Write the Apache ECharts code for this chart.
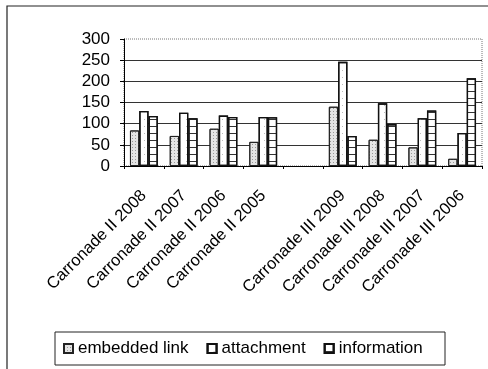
<!DOCTYPE html>
<html>
<head>
<meta charset="utf-8">
<script src="https://cdn.jsdelivr.net/npm/echarts@6/dist/echarts.min.js"></script>
<style>
html,body{margin:0;padding:0;background:#fff;}
#c{width:488px;height:369px;}
</style>
</head>
<body>
<div id="c"></div>
<script>
const categories = ['Carronade II 2008','Carronade II 2007','Carronade II 2006','Carronade II 2005','','Carronade III 2009','Carronade III 2008','Carronade III 2007','Carronade III 2006'];
const embeddedLink = [84, 71, 88, 57, null, 140, 62, 44, 17];
const attachment = [130, 126, 119, 116, null, 246, 148, 113, 78];
const information = [118, 113, 116, 115, null, 71, 99, 131, 207];
const seriesNames = ['embedded link', 'attachment', 'information'];
const yTicks = [0, 50, 100, 150, 200, 250, 300];

const chart = echarts.init(document.getElementById('c'), null, {renderer: 'canvas'});
const font = 'Liberation Sans, Arial, sans-serif';

chart.setOption({
  animation: false,
  backgroundColor: '#fff',
  graphic: [
    {type: 'rect', shape: {x: 7, y: 6, width: 520, height: 420}, style: {fill: 'none', stroke: '#222', lineWidth: 1.2}, z: 0},
    {type: 'rect', shape: {x: 55, y: 332, width: 390, height: 33}, style: {fill: '#fff', stroke: '#222', lineWidth: 1}, z: 1}
  ],
  grid: {
    left: 124, right: 6, top: 39, bottom: 203,
    show: true, borderColor: '#777', borderWidth: 1, borderType: 'dotted', backgroundColor: 'transparent'
  },
  legend: {
    data: seriesNames,
    left: 63, top: 340, padding: 0,
    itemWidth: 9, itemHeight: 9, itemGap: 18,
    icon: 'rect',
    textStyle: {fontFamily: font, fontSize: 17, color: '#000'},
    z: 5
  },
  xAxis: {
    type: 'category',
    data: categories,
    axisLine: {lineStyle: {color: '#000', width: 1}},
    axisTick: {show: true, length: 3, lineStyle: {color: '#000'}},
    axisLabel: {rotate: 45, margin: 27, interval: 0, fontFamily: font, fontSize: 16.5, color: '#000'}
  },
  yAxis: {
    type: 'value',
    min: yTicks[0], max: yTicks[yTicks.length - 1], interval: 50,
    axisLine: {show: true, lineStyle: {color: '#000', width: 1}},
    axisTick: {show: true, length: 4, lineStyle: {color: '#000'}},
    axisLabel: {margin: 14, fontFamily: font, fontSize: 17, color: '#000'},
    splitLine: {show: true, showMaxLine: false, lineStyle: {color: '#333', width: 1}}
  },
  series: [
    {
      name: seriesNames[0], type: 'bar', data: embeddedLink,
      barGap: '0%', barCategoryGap: '30%',
      itemStyle: {
        color: '#e4e4e4', borderColor: '#222', borderWidth: 1,
        decal: {symbol: 'rect', symbolSize: 1, dashArrayX: [1, 2], dashArrayY: [1, 2], color: '#999', rotation: 0}
      }
    },
    {
      name: seriesNames[1], type: 'bar', data: attachment,
      barGap: '0%', barCategoryGap: '30%',
      itemStyle: {
        color: '#fff', borderColor: '#111', borderWidth: 1.3,
        decal: {symbol: 'rect', symbolSize: 1, dashArrayX: [1, 5], dashArrayY: [1, 6], color: '#bbb', rotation: 0}
      }
    },
    {
      name: seriesNames[2], type: 'bar', data: information,
      barGap: '0%', barCategoryGap: '30%',
      itemStyle: {
        color: '#fff', borderColor: '#111', borderWidth: 1.3,
        decal: {symbol: 'rect', symbolSize: 1, dashArrayX: [1, 0], dashArrayY: [1, 6], color: '#333', rotation: 0}
      }
    }
  ]
});
</script>
</body>
</html>
